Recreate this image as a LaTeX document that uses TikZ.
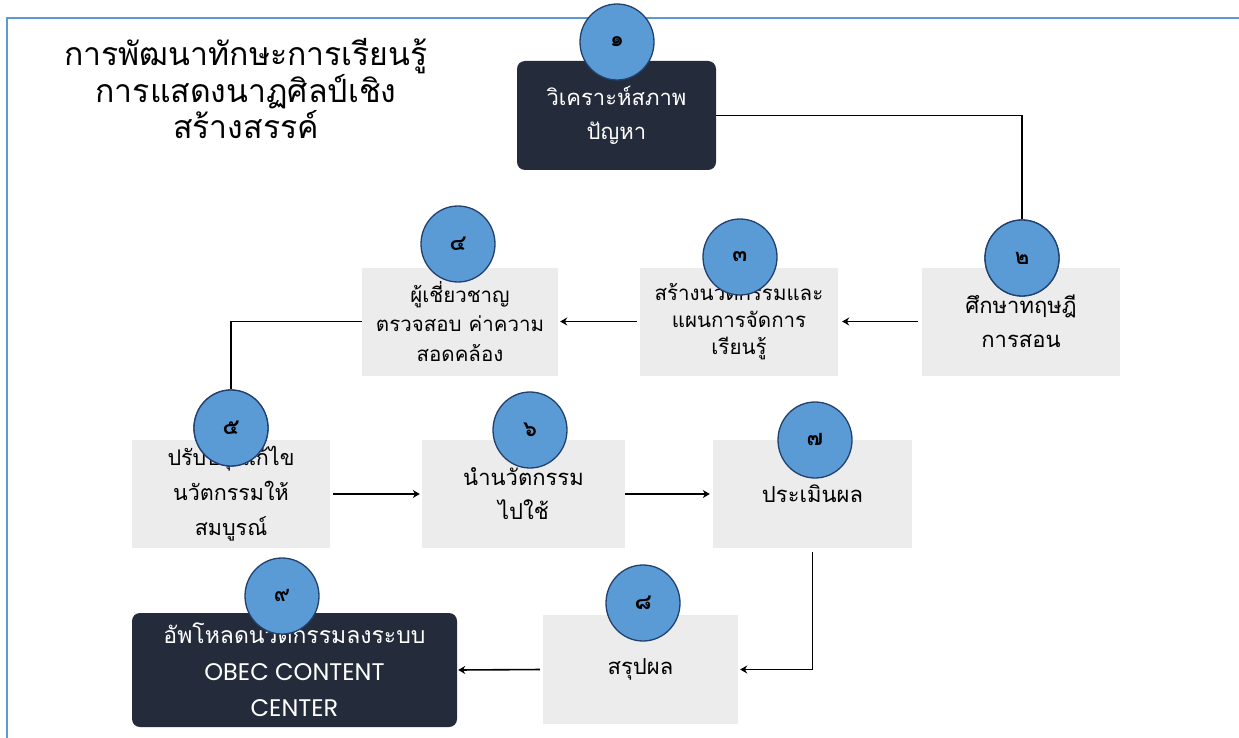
\documentclass[tikz,border=0pt]{standalone}
\usepackage{fontspec}
\setmainfont{Loma}[Script=Thai]
\newfontfamily\latinf{Poppins}
\usetikzlibrary{arrows.meta,shapes.geometric}
\definecolor{navy}{HTML}{242B3B}
\definecolor{boxgray}{HTML}{ECECEC}
\definecolor{circblue}{HTML}{5B9BD5}
\definecolor{circedge}{HTML}{22406E}
\definecolor{frameblue}{HTML}{5B9BD5}
\newcommand{\numtxt}[1]{\raisebox{-4pt}{\bfseries #1}}
\begin{document}
\begin{tikzpicture}[x=1pt,y=-1pt,
  lightbox/.style={rectangle, fill=boxgray, align=center, inner sep=0pt,
    minimum width=198pt, minimum height=108pt, font=\fontsize{22}{34}\selectfont},
  darkbox/.style={rectangle, rounded corners=8pt, fill=navy, text=white, align=center, inner sep=0pt,
    font=\fontsize{22}{34}\selectfont},
  num/.style={ellipse, draw=circedge, line width=1.3pt, fill=circblue, inner sep=0pt,
    minimum width=74pt, minimum height=76pt, font=\fontsize{22}{22}\selectfont},
  conn/.style={draw=black, line width=1.6pt},
  arr/.style={conn, -{Stealth[length=7pt,width=8pt]}}
]
\useasboundingbox (0,0) rectangle (1239,738);
\fill[white] (0,0) rectangle (1239,738);
\draw[frameblue, line width=2pt] (7,738) -- (7,18) -- (1239,18);

% title
\node[align=center, font=\fontsize{32}{36.5}\selectfont] (title) at (246,89)
  {การพัฒนาทักษะการเรียนรู้\\การแสดงนาฏศิลป์เชิง\\สร้างสรรค์};

% boxes
\node[darkbox, minimum width=199pt, minimum height=109pt] (b1) at (616.5,115.5) {วิเคราะห์สภาพ\\ปัญหา};
\node[lightbox] (b2) at (1021,321.5) {ศึกษาทฤษฎี\\การสอน};
\node[lightbox, font=\fontsize{20.5}{27}\selectfont] (b3) at (739,321.5) {สร้างนวัตกรรมและ\\แผนการจัดการ\\เรียนรู้};
\node[lightbox, minimum width=196pt, font=\fontsize{20.5}{29.5}\selectfont] (b4) at (460,321.5) {ผู้เชี่ยวชาญ\\ตรวจสอบ ค่าความ\\สอดคล้อง};
\node[lightbox, font=\fontsize{21.5}{35}\selectfont] (b5) at (231,494) {ปรับปรุงแก้ไข\\นวัตกรรมให้\\สมบูรณ์};
\node[lightbox, minimum width=203pt] (b6) at (523.5,494) {นำนวัตกรรม\\ไปใช้};
\node[lightbox, minimum width=199pt] (b7) at (812.5,494) {ประเมินผล};
\node[lightbox, minimum width=195pt, minimum height=109pt] (b8) at (640.5,669.5) {สรุปผล};
\node[darkbox, minimum width=325pt, minimum height=114pt, font=\fontsize{23}{36.5}\selectfont] (b9) at (294.5,670)
  {อัพโหลดนวัตกรรมลงระบบ\\{\latinf\fontsize{24}{36.5}\selectfont OBEC CONTENT}\\{\latinf\fontsize{24}{36.5}\selectfont CENTER}};

% number circles
\node[num] (c1) at (617,42) {\numtxt{๑}};
\node[num] (c2) at (1022,258) {\numtxt{๒}};
\node[num] (c3) at (740,257) {\numtxt{๓}};
\node[num] (c4) at (458,244) {\numtxt{๔}};
\node[num] (c5) at (231,428) {\numtxt{๕}};
\node[num] (c6) at (530,430) {\numtxt{๖}};
\node[num] (c7) at (815,440) {\numtxt{๗}};
\node[num] (c8) at (643,603) {\numtxt{๘}};
\node[num] (c9) at (282,596) {\numtxt{๙}};

% connectors
\draw[conn] (b1.east) -| (c2.north);
\draw[arr, shorten <=4pt, shorten >=4pt] (b2.west) -- (b3.east);
\draw[arr, shorten <=3pt, shorten >=2pt] (b3.west) -- (b4.east);
\draw[conn] (b4.west) -| (c5.north);
\draw[arr, shorten <=3pt, shorten >=2pt] (b5.east) -- (b6.west);
\draw[arr, shorten <=0pt, shorten >=3pt] (b6.east) -- (b7.west);
\draw[arr, shorten <=4pt, shorten >=2pt] (b7.south) |- (b8.east);
\draw[arr, shorten <=3pt, shorten >=1pt] (b8.west) -- (b9.east);

% redraw circles on top of connectors
\node[num] at (c2) {\numtxt{๒}};
\node[num] at (c5) {\numtxt{๕}};
\end{tikzpicture}
\end{document}
